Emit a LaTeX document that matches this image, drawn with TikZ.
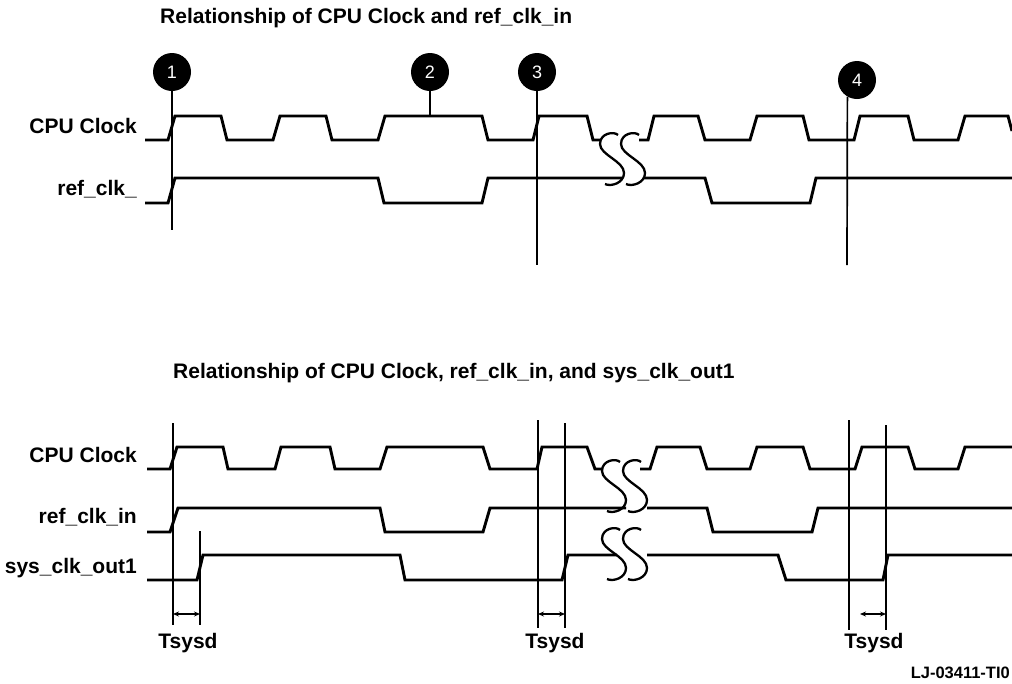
\documentclass[tikz,border=0pt]{standalone}
\usepackage{fontspec}
\setmainfont{Liberation Sans}
\usetikzlibrary{arrows.meta}

\begin{document}
\begin{tikzpicture}[
  x=1pt, y=-1pt,
  font=\fontsize{21}{25}\selectfont\bfseries,
  sig/.style={line width=2.9pt, line join=miter},
  tick/.style={line width=1.7pt},
  dot/.style={circle, fill=black, minimum size=38pt, inner sep=0pt, text=white, font=\fontsize{18}{20}\selectfont},
  lbl/.style={anchor=base east, inner sep=0pt},
  ttl/.style={anchor=base west, inner sep=0pt},
  dim/.style={{Stealth[length=6pt,width=5pt]}-{Stealth[length=6pt,width=5pt]}, line width=1.2pt},
  sbreak/.pic={\draw[line width=2.3pt] (6,-24) .. controls (2,-28) and (-12,-26) .. (-12,-15) .. controls (-12,-4) and (12,2) .. (12,14) .. controls (12,24) and (-1,28) .. (-7,25);}
]
\useasboundingbox (0,0) rectangle (1012,683);

% top: CPU Clock vs ref_clk_in
\node[ttl] (t1) at (160,23) {Relationship of CPU Clock and ref\_clk\_in};
\node[lbl] (cpu1) at (137,133) {CPU Clock};
\node[lbl] (ref1) at (137,195) {ref\_clk\_};

\draw[sig] (145,140) -- (168,140) -- (175,116) -- (221,116) -- (227,140) -- (273,140) -- (280,116) -- (326,116) -- (332,140) -- (378,140) -- (385,116) -- (482,116) -- (488,140) -- (533,140) -- (539,116) -- (587,116) -- (593,140) -- (601,140);
\draw[sig] (639,140) -- (648,140) -- (654,116) -- (698,116) -- (705,140) -- (750,140) -- (757,116) -- (803,116) -- (809,140) -- (854,140) -- (860,116) -- (908,116) -- (914,140) -- (958,140) -- (965,116) -- (1008,116) -- (1012,131);
\draw[sig] (145,203) -- (168,203) -- (175,178) -- (378,178) -- (384,203) -- (482,203) -- (488,178) -- (622,178);
\draw[sig] (644,178) -- (705,178) -- (712,203) -- (810,203) -- (816,178) -- (1012,178);
\pic at (612,159) {sbreak};
\pic at (633,159) {sbreak};

\node[dot] (m1) at (172,72) {1};
\node[dot] (m2) at (430,72) {2};
\node[dot] (m3) at (537,72) {3};
\node[dot] (m4) at (857,80) {4};
\coordinate (m1e) at (172,230);
\coordinate (m2e) at (430,116);
\coordinate (m3e) at (537,265);
\coordinate (m4e) at (847,265);
\draw[tick] (m1) -- (m1e);
\draw[tick] (m2) -- (m2e);
\draw[tick] (m3) -- (m3e);
\draw[tick] (m4.-120) -- (m4e);

% bottom: CPU Clock, ref_clk_in, sys_clk_out1
\node[ttl] (t2) at (173,378) {Relationship of CPU Clock, ref\_clk\_in, and sys\_clk\_out1};
\node[lbl] (cpu2) at (137,462) {CPU Clock};
\node[lbl] (ref2) at (137,523) {ref\_clk\_in};
\node[lbl] (sys2) at (137,573) {sys\_clk\_out1};

\draw[sig] (147,469) -- (170,469) -- (177,447) -- (223,447) -- (228,469) -- (275,469) -- (281,447) -- (330,447) -- (335,469) -- (380,469) -- (387,447) -- (483,447) -- (490,469) -- (537,469) -- (542,447) -- (587,447) -- (595,469) -- (602,469);
\draw[sig] (640,469) -- (650,469) -- (657,447) -- (700,447) -- (707,469) -- (750,469) -- (757,447) -- (803,447) -- (810,469) -- (855,469) -- (862,447) -- (908,447) -- (915,469) -- (958,469) -- (965,447) -- (1012,447);
\draw[sig] (147,532) -- (170,532) -- (178,508) -- (380,508) -- (385,532) -- (483,532) -- (490,508) -- (626,508);
\draw[sig] (647,508) -- (707,508) -- (713,532) -- (812,532) -- (818,508) -- (1012,508);
\draw[sig] (147,580) -- (197,580) -- (203,555) -- (400,555) -- (405,580) -- (562,580) -- (568,555) -- (617,555);
\draw[sig] (647,555) -- (778,555) -- (786,580) -- (883,580) -- (888,555) -- (1012,555);
\pic at (614,486) {sbreak};
\pic at (635,486) {sbreak};
\pic at (614,554) {sbreak};
\pic at (635,554) {sbreak};

\coordinate (a1) at (173,423); \coordinate (a1b) at (173,625);
\coordinate (a2) at (200,531); \coordinate (a2b) at (200,625);
\coordinate (b1) at (538,420); \coordinate (b1b) at (538,628);
\coordinate (b2) at (565,423); \coordinate (b2b) at (565,628);
\coordinate (c1) at (849,420); \coordinate (c1b) at (849,630);
\coordinate (c2) at (886,425); \coordinate (c2b) at (886,630);
\draw[tick] (a1) -- (a1b);
\draw[tick] (a2) -- (a2b);
\draw[tick] (b1) -- (b1b);
\draw[tick] (b2) -- (b2b);
\draw[tick] (c1) -- (c1b);
\draw[tick] (c2) -- (c2b);

\coordinate (d1) at (173,614); \coordinate (d2) at (200,614);
\coordinate (e1) at (538,614); \coordinate (e2) at (565,614);
\coordinate (f1) at (860,614); \coordinate (f2) at (886,614);
\draw[dim] (d1) -- (d2);
\draw[dim] (e1) -- (e2);
\draw[dim] (f1) -- (f2);

\node[anchor=base] (ts1) at (188,648) {Tsysd};
\node[anchor=base] (ts2) at (555,648) {Tsysd};
\node[anchor=base] (ts3) at (874,648) {Tsysd};
\node[anchor=base east, inner sep=0pt, font=\fontsize{16.5}{18}\selectfont\bfseries] (fig) at (1010,678) {LJ-03411-TI0};
\end{tikzpicture}
\end{document}
